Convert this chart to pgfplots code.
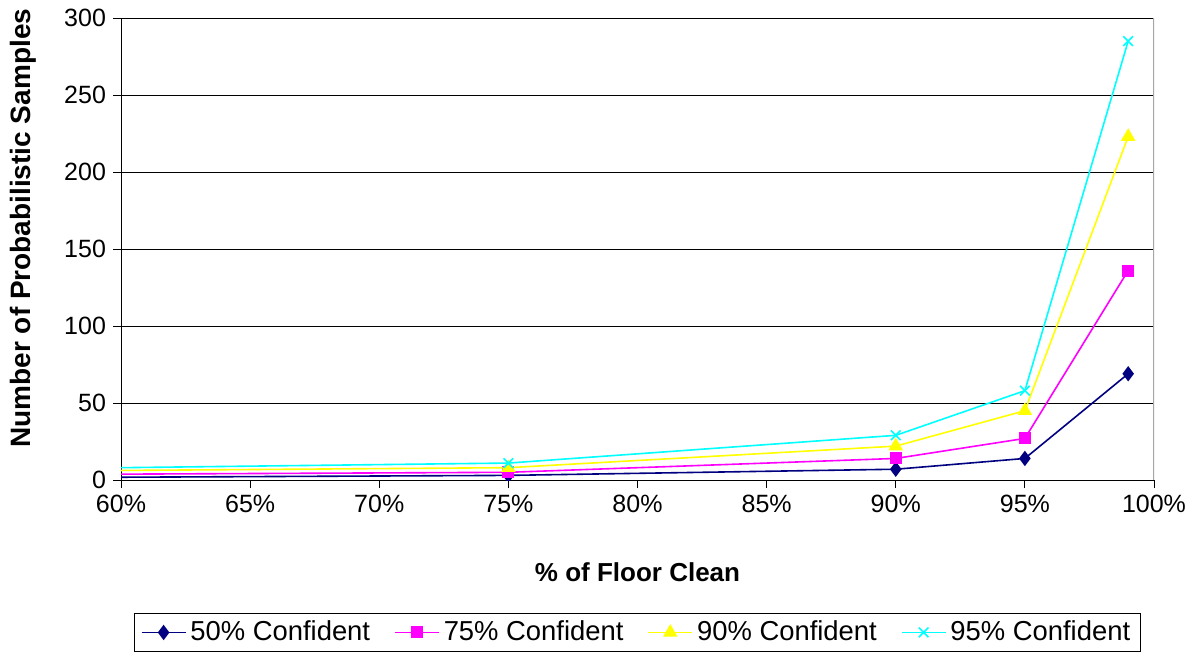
\documentclass[border=0pt]{standalone}
\usepackage{pgfplots}
\pgfplotsset{compat=1.18}
\usepackage{fontspec}
\setmainfont{Liberation Sans}
\definecolor{cnavy}{RGB}{0,0,128}
\definecolor{cmag}{RGB}{255,0,255}
\definecolor{cyel}{RGB}{255,255,0}
\definecolor{ccya}{RGB}{0,255,255}
\begin{document}
\begin{tikzpicture}
\path[use as bounding box] (0,0) rectangle (597.5pt,-326.5pt);
\begin{axis}[
  at={(60.5pt,-240pt)}, anchor=south west,
  scale only axis, width=516.5pt, height=231pt,
  xmin=60, xmax=100, ymin=0, ymax=300,
  axis lines=left, axis line style={-, black, thin},
  xtick={60,65,...,100},
  xticklabels={60\%,65\%,70\%,75\%,80\%,85\%,90\%,95\%,100\%},
  ytick={0,50,...,300},
  tick align=outside, major tick length=4pt,
  tick style={black, thin},
  ymajorgrids, grid style={black, thin},
  every axis plot/.append style={line width=0.8pt},
  font=\fontsize{12.5}{14}\selectfont,
  tick label style={font=\fontsize{12.5}{14}\selectfont},
  /pgf/number format/assume math mode=true,
  xlabel={\textbf{\% of Floor Clean}},
  xlabel style={at={(axis description cs:0.5,-0.199)}, anchor=center, font=\fontsize{13}{15}\selectfont},
  ylabel={\textbf{Number of Probabilistic Samples}},
  ylabel style={at={(axis description cs:-0.095,0.545)}, anchor=center, rotate=0, font=\fontsize{14}{16}\selectfont},
  clip=true, clip marker paths=true,
  legend columns=4,
  legend style={at={(axis description cs:0.5,-0.33)}, anchor=center, draw=black, thin,
    font=\fontsize{13.7}{16}\selectfont, /tikz/every even column/.append style={column sep=10pt},
    inner xsep=3pt, inner ysep=2pt},
  legend cell align=left,
  legend image code/.code={\draw[#1] (0pt,0pt) -- (22pt,0pt); \draw[#1, only marks] plot coordinates {(11pt,0pt)};},
]
\addplot[color=cnavy, mark=diamond*, mark size=3.2pt, mark options={fill=cnavy}] coordinates {(50,1) (75,3) (90,7) (95,14) (99,69)};
\addlegendentry{50\% Confident}
\addplot[color=cmag, mark=square*, mark size=2.6pt, mark options={fill=cmag}] coordinates {(50,3) (75,5) (90,14) (95,27) (99,136)};
\addlegendentry{75\% Confident}
\addplot[color=cyel, mark=triangle*, mark size=3.4pt, mark options={fill=cyel}] coordinates {(50,5) (75,8) (90,22) (95,45) (99,223)};
\addlegendentry{90\% Confident}
\addplot[color=ccya, mark=x, mark size=3.4pt] coordinates {(50,6) (75,11) (90,29) (95,58) (99,285)};
\addlegendentry{95\% Confident}
\draw[gray!70, line width=0.9pt] (rel axis cs:1,0) -- (rel axis cs:1,1);
\end{axis}
\end{tikzpicture}
\end{document}
